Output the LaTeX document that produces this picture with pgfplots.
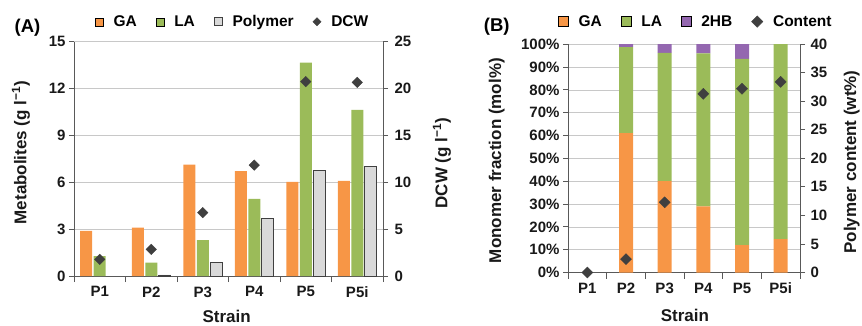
\documentclass[border=0pt]{standalone}
\usepackage{pgfplots}
\pgfplotsset{compat=1.18}
\usepackage{fontspec}
\setmainfont{Liberation Sans}
\definecolor{cGA}{HTML}{F79646}
\definecolor{cLA}{HTML}{9BBB59}
\definecolor{cHB}{HTML}{9467B0}
\definecolor{cPoly}{HTML}{D9D9D9}
\definecolor{cPolyEdge}{HTML}{404040}
\definecolor{cDia}{HTML}{3F3F3F}
\definecolor{axgray}{HTML}{595959}
\definecolor{gridgray}{HTML}{C8C8C8}
\newcommand{\labfont}{\fontsize{17}{19}\selectfont\bfseries}

\pgfplotsset{
  base/.style={
    scale only axis, xmin=-0.5, xmax=5.5,
    axis line style={draw=axgray, line width=0.8pt},
    every tick/.style={draw=axgray, line width=0.8pt},
    major tick length=5pt, minor tick length=6pt, tick align=outside,
    /pgf/number format/assume math mode=true,
    tick label style={font=\fontsize{15}{17}\selectfont\bfseries, text=black!90},
    xticklabel style={yshift=-2pt},
    clip=false,
  },
  sqA/.style={legend image code/.code={\fill[##1] (0pt,-4pt) rectangle (8pt,4pt);}},
  sqApoly/.style={legend image code/.code={\draw[##1] (0pt,-4pt) rectangle (8pt,4pt);}},
  sqB/.style={legend image code/.code={\fill[##1] (0pt,-5pt) rectangle (10pt,5pt);}},
  diaLeg/.style={legend image code/.code={\fill[cDia, rotate=45] (0pt,0pt) ++(-#1,-#1) rectangle ++(2*#1,2*#1);}},
  legsty/.style={legend style={draw=none, fill=none, inner sep=0pt, legend columns=-1,
     font=\fontsize{15.5}{17}\selectfont\bfseries,
     /tikz/every odd column/.append style={column sep=10pt},
     /tikz/every even column/.append style={column sep=19pt},
     nodes={inner sep=0pt}}},
}

\begin{document}
\begin{tikzpicture}
\useasboundingbox (0pt,0pt) rectangle (862pt,325pt);

% ---------------- Panel A ----------------
\begin{axis}[base, at={(74pt,49pt)}, anchor=south west, width=309pt, height=234.3pt,
  ymin=0, ymax=15, ytick={0,3,...,15},
  ymajorgrids, grid style={draw=gridgray, line width=0.6pt},
  axis x line*=bottom, axis y line*=left,
  xtick={0,...,5}, xticklabels={P1,P2,P3,P4,P5,P5i},
  major x tick style={draw=none},
  minor xtick={-0.5,0.5,...,5.5},
  xlabel={Strain},
  every axis x label/.style={at={(axis description cs:0.494,-0.174)}, anchor=center, font=\labfont, text=black!90},
  ylabel={Metabolites (g l\textsuperscript{−1})},
  every axis y label/.style={at={(axis description cs:-0.172,0.527)}, rotate=90, anchor=center, font=\labfont, text=black!90},
  ybar, bar width=12pt,
]
\addplot[ybar, bar shift=-13.5pt, fill=cGA, draw=none] coordinates {(0,2.89) (1,3.10) (2,7.13) (3,6.72) (4,6.02) (5,6.09)};
\addplot[ybar, bar shift=0pt, fill=cLA, draw=none] coordinates {(0,1.28) (1,0.85) (2,2.30) (3,4.94) (4,13.66) (5,10.64)};
\addplot[ybar, bar shift=13.5pt, fill=cPoly, draw=cPolyEdge, line width=0.6pt] coordinates {(1,0.07) (2,0.87) (3,3.70) (4,6.74) (5,7.00)};
\end{axis}

\begin{axis}[base, at={(74pt,49pt)}, anchor=south west, width=309pt, height=234.3pt,
  ymin=0, ymax=25, ytick={0,5,...,25},
  axis x line=none, axis y line*=right,
  yticklabel style={xshift=3pt},
  ylabel={DCW (g l\textsuperscript{−1})},
  every axis y label/.style={at={(axis description cs:1.191,0.482)}, rotate=90, anchor=center, font=\labfont, text=black!90},
  legsty,
  legend style={at={(axis description cs:0.068,1.085)}, anchor=west},
]
\addlegendimage{sqA, fill=cGA}
\addlegendentry{GA}
\addlegendimage{sqA, fill=cLA}
\addlegendentry{LA}
\addlegendimage{sqApoly, fill=cPoly, draw=cPolyEdge, line width=0.6pt}
\addlegendentry{Polymer}
\addplot[only marks, mark=square*, mark size=3.7pt, mark options={rotate=45, fill=cDia, draw=cDia}, diaLeg=2.9pt]
  coordinates {(0,1.77) (1,2.84) (2,6.77) (3,11.84) (4,20.74) (5,20.67)};
\addlegendentry{DCW}
\end{axis}

% ---------------- Panel B ----------------
\begin{axis}[base, at={(568pt,52.5pt)}, anchor=south west, width=232pt, height=228.3pt,
  ymin=0, ymax=100, ytick={0,10,...,100},
  yticklabel={\pgfmathprintnumber{\tick}\%},
  ymajorgrids, grid style={draw=gridgray, line width=0.6pt},
  axis x line*=bottom, axis y line*=left,
  xtick={0,...,5}, xticklabels={P1,P2,P3,P4,P5,P5i},
  major x tick style={draw=none},
  minor xtick={-0.5,0.5,...,5.5},
  xlabel={Strain},
  every axis x label/.style={at={(axis description cs:0.504,-0.186)}, anchor=center, font=\labfont, text=black!90},
  ylabel={Monomer fraction (mol\%)},
  every axis y label/.style={at={(axis description cs:-0.307,0.49)}, rotate=90, anchor=center, font=\labfont, text=black!90},
  ybar stacked, bar width=14pt,
]
\addplot[fill=cGA, draw=none] coordinates {(0,0) (1,61.0) (2,40.0) (3,29.0) (4,12.0) (5,14.6)};
\addplot[fill=cLA, draw=none] coordinates {(0,0) (1,37.7) (2,56.2) (3,67.0) (4,81.6) (5,85.4)};
\addplot[fill=cHB, draw=none] coordinates {(0,0) (1,1.3) (2,3.8) (3,4.0) (4,6.4) (5,0)};
\end{axis}

\begin{axis}[base, at={(568pt,52.5pt)}, anchor=south west, width=232pt, height=228.3pt,
  ymin=0, ymax=40, ytick={0,5,...,40},
  axis x line=none, axis y line*=right,
  yticklabel style={xshift=2pt},
  ylabel={Polymer content (wt\%)},
  every axis y label/.style={at={(axis description cs:1.223,0.484)}, rotate=90, anchor=center, font=\labfont, text=black!90},
  legsty,
  legend style={at={(axis description cs:-0.043,1.099)}, anchor=west},
]
\addlegendimage{sqB, fill=cGA}
\addlegendentry{GA}
\addlegendimage{sqB, fill=cLA}
\addlegendentry{LA}
\addlegendimage{sqB, fill=cHB}
\addlegendentry{2HB}
\addplot[only marks, mark=square*, mark size=3.9pt, mark options={rotate=45, fill=cDia, draw=cDia}, diaLeg=4pt]
  coordinates {(0,0) (1,2.34) (2,12.3) (3,31.3) (4,32.2) (5,33.4)};
\addlegendentry{Content}
\end{axis}

\node[font=\fontsize{18.5}{20}\selectfont\bfseries] at (27.5pt,297pt) {(A)};
\node[font=\fontsize{18.5}{20}\selectfont\bfseries] at (496.7pt,298pt) {(B)};
\end{tikzpicture}
\end{document}
